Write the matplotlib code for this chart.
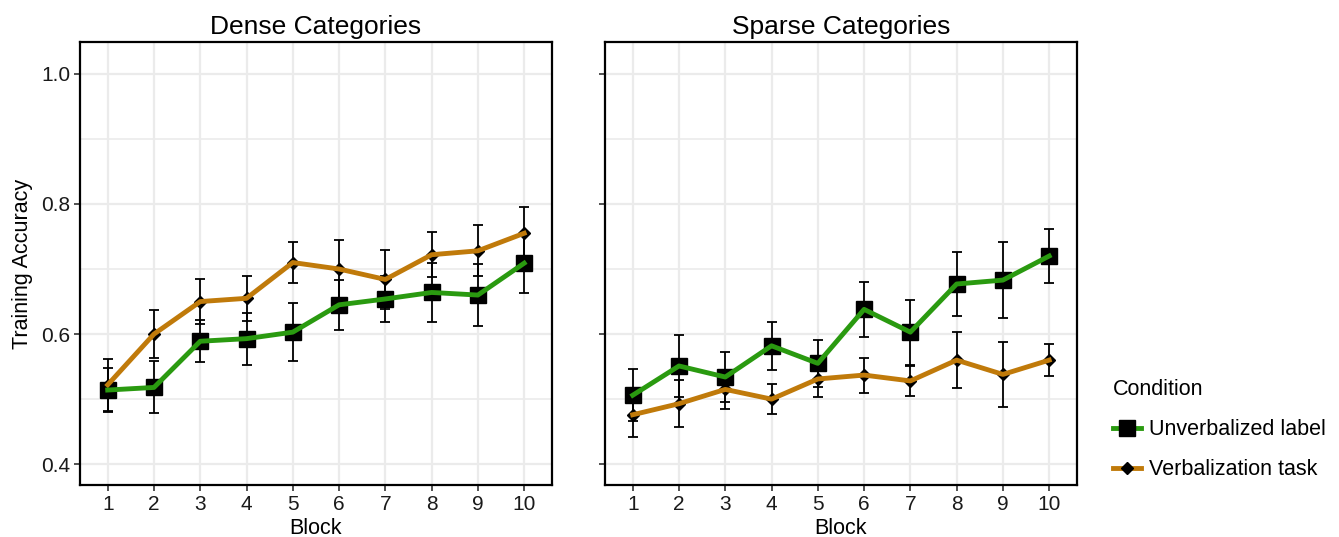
import numpy as np
import matplotlib.pyplot as plt
from matplotlib.lines import Line2D

plt.rcParams['font.family'] = ['Liberation Sans', 'DejaVu Sans']

blocks = np.arange(1, 11)

# Dense categories: mean and SE bounds
dense_unverb = [0.514, 0.518, 0.589, 0.593, 0.603, 0.645, 0.654, 0.664, 0.660, 0.709]
dense_unverb_se = [0.034, 0.040, 0.032, 0.040, 0.045, 0.038, 0.036, 0.045, 0.047, 0.046]
dense_verb = [0.522, 0.600, 0.650, 0.655, 0.710, 0.700, 0.684, 0.722, 0.728, 0.755]
dense_verb_se = [0.040, 0.037, 0.035, 0.035, 0.032, 0.045, 0.045, 0.035, 0.039, 0.040]

# Sparse categories
sparse_unverb = [0.506, 0.551, 0.534, 0.582, 0.555, 0.638, 0.603, 0.677, 0.683, 0.720]
sparse_unverb_se = [0.040, 0.047, 0.039, 0.037, 0.036, 0.042, 0.050, 0.049, 0.058, 0.042]
sparse_verb = [0.476, 0.493, 0.515, 0.500, 0.531, 0.537, 0.528, 0.560, 0.538, 0.560]
sparse_verb_se = [0.034, 0.036, 0.030, 0.023, 0.027, 0.027, 0.023, 0.043, 0.050, 0.025]

green = '#2a9a10'
orange = '#c07a0a'

fig = plt.figure(figsize=(13.39, 5.37), dpi=100)
ax1 = fig.add_axes([0.0597, 0.0968, 0.3525, 0.825])
ax2 = fig.add_axes([0.4518, 0.0968, 0.3525, 0.825])

panels = [
    (ax1, 'Dense Categories', dense_unverb, dense_unverb_se, dense_verb, dense_verb_se),
    (ax2, 'Sparse Categories', sparse_unverb, sparse_unverb_se, sparse_verb, sparse_verb_se),
]

for ax, title, u, use, v, vse in panels:
    ax.errorbar(blocks, v, yerr=vse, fmt='none', ecolor='black', elinewidth=1.3,
                capsize=3.7, capthick=1.3, zorder=2)
    ax.errorbar(blocks, u, yerr=use, fmt='none', ecolor='black', elinewidth=1.3,
                capsize=3.7, capthick=1.3, zorder=2)
    ax.plot(blocks, v, linestyle='none', marker='D', markersize=6, color='black', zorder=3)
    ax.plot(blocks, u, linestyle='none', marker='s', markersize=11, color='black', zorder=3)
    ax.plot(blocks, v, color=orange, linewidth=3.5, zorder=4)
    ax.plot(blocks, u, color=green, linewidth=3.5, zorder=4)

    ax.set_title(title, fontsize=19, pad=6)
    ax.set_xlim(0.4, 10.6)
    ax.set_ylim(0.368, 1.049)
    ax.set_xticks(blocks)
    ax.set_yticks([0.4, 0.6, 0.8, 1.0])
    ax.set_yticks([0.5, 0.7, 0.9], minor=True)
    ax.grid(True, which='major', color='#ebebeb', linewidth=1.6, zorder=0)
    ax.grid(True, which='minor', axis='y', color='#ebebeb', linewidth=1.2, zorder=0)
    ax.set_axisbelow(True)
    ax.tick_params(axis='both', which='major', labelsize=15, length=4, width=1.2,
                   color='#333333', labelcolor='#1a1a1a', pad=3)
    ax.tick_params(axis='y', which='minor', length=0)
    for s in ax.spines.values():
        s.set_linewidth(1.6)
        s.set_color('black')
    ax.set_xlabel('Block', fontsize=15.5, labelpad=3)

ax1.set_ylabel('Training Accuracy', fontsize=15.5, labelpad=6)
ax1.set_yticklabels(['0.4', '0.6', '0.8', '1.0'])
ax2.set_yticklabels([])

handles = [
    Line2D([], [], color=green, linewidth=3.5, marker='s', markersize=11,
           markerfacecolor='black', markeredgecolor='black'),
    Line2D([], [], color=orange, linewidth=3.5, marker='D', markersize=6,
           markerfacecolor='black', markeredgecolor='black'),
]
leg = fig.legend(handles, ['Unverbalized label', 'Verbalization task'], title='Condition',
                 loc='center left', bbox_to_anchor=(0.817, 0.2), frameon=False,
                 fontsize=15.5, title_fontsize=15.5, handlelength=1.3, labelspacing=0.9,
                 handletextpad=0.35)
leg._legend_box.align = 'left'

fig.savefig('out.png', dpi=100)
